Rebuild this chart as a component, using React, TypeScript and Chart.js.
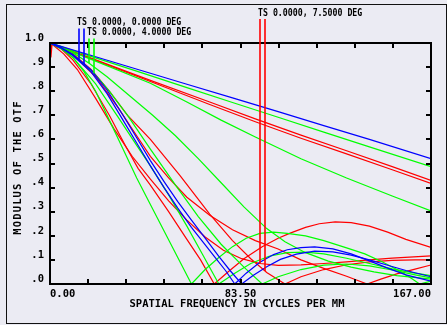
import React, { useEffect, useRef } from 'react';
import { Chart, registerables } from 'chart.js';

Chart.register(...registerables);

type Pt = [number, number];

// Axis ticks
const xTickValues = [0, 16.7, 33.4, 50.1, 66.8, 83.5, 100.2, 116.9, 133.6, 150.3, 167];
const xTickLabels = ['0.00', '', '', '', '', '83.50', '', '', '', '', '167.00'];
const yTickValues = [0, 0.1, 0.2, 0.3, 0.4, 0.5, 0.6, 0.7, 0.8, 0.9, 1.0];
const yTickLabels = ['.0', '.1', '.2', '.3', '.4', '.5', '.6', '.7', '.8', '.9', '1.0'];

const xTitle = 'SPATIAL FREQUENCY IN CYCLES PER MM';
const yTitle = 'MODULUS OF THE OTF';

const fieldLabels = ['TS 0.0000, 0.0000 DEG', 'TS 0.0000, 4.0000 DEG', 'TS 0.0000, 7.5000 DEG'];
const fieldColors = ['#0000ff', '#00ff00', '#ff0000'];

// Field 1 (0.0 deg): [frequency, modulus]
const blueLimit: Pt[] = [[0, 1], [20, 0.943], [40, 0.886], [60, 0.829], [80, 0.772], [100, 0.715], [120, 0.657], [140, 0.6], [167, 0.52]];
const blueT: Pt[] = [[0, 1], [5, 0.978], [10, 0.948], [18, 0.88], [25, 0.79], [32, 0.68], [38, 0.585], [44, 0.49], [50, 0.4], [56, 0.315], [62, 0.235], [67, 0.175], [72, 0.115], [77, 0.055], [81, 0], [86, 0.045], [92, 0.09], [98, 0.122], [104, 0.142], [110, 0.151], [116, 0.154], [124, 0.146], [132, 0.125], [140, 0.096], [148, 0.066], [156, 0.038], [167, 0.012]];
const blueS: Pt[] = [[0, 1], [5, 0.98], [10, 0.952], [18, 0.888], [25, 0.805], [32, 0.7], [38, 0.607], [44, 0.512], [50, 0.425], [56, 0.342], [62, 0.265], [68, 0.19], [74, 0.115], [79, 0.055], [84, 0], [89, 0.035], [95, 0.072], [101, 0.102], [108, 0.124], [116, 0.136], [124, 0.133], [132, 0.12], [140, 0.1], [148, 0.078], [156, 0.056], [167, 0.03]];

// Field 2 (4.0 deg)
const greenLimitA: Pt[] = [[0, 1], [20, 0.938], [40, 0.877], [60, 0.815], [80, 0.753], [100, 0.692], [120, 0.63], [140, 0.569], [167, 0.487]];
const greenLimitB: Pt[] = [[0, 1], [20, 0.925], [44, 0.833], [60, 0.755], [75, 0.68], [90, 0.61], [110, 0.52], [130, 0.44], [150, 0.365], [167, 0.303]];
const greenA: Pt[] = [[0, 1], [5, 0.98], [10, 0.94], [15, 0.88], [20, 0.8], [26, 0.68], [32, 0.56], [38, 0.44], [44, 0.33], [50, 0.22], [56, 0.11], [62, 0], [68, 0.06], [74, 0.11], [80, 0.155], [86, 0.19], [92, 0.21], [98, 0.215], [104, 0.21], [112, 0.2], [120, 0.18], [130, 0.15], [138, 0.125], [146, 0.09], [154, 0.05], [159, 0.02], [162, 0], [167, 0.012]];
const greenT: Pt[] = [[0, 1], [5, 0.985], [10, 0.96], [17, 0.917], [25, 0.86], [35, 0.78], [45, 0.7], [55, 0.615], [65, 0.52], [75, 0.42], [85, 0.32], [95, 0.23], [103, 0.175], [112, 0.13], [122, 0.095], [132, 0.07], [142, 0.05], [152, 0.035], [167, 0.02]];
const greenS: Pt[] = [[0, 1], [5, 0.978], [10, 0.95], [19, 0.878], [26, 0.8], [34, 0.7], [44, 0.56], [55, 0.41], [65, 0.28], [75, 0.165], [85, 0.07], [93, 0], [100, 0.03], [110, 0.06], [120, 0.078], [130, 0.083], [140, 0.075], [150, 0.058], [160, 0.038], [167, 0.025]];
const greenB: Pt[] = [[0, 1], [5, 0.975], [10, 0.94], [20, 0.83], [30, 0.69], [38, 0.575], [44, 0.49], [52, 0.37], [60, 0.24], [67, 0.12], [74, 0], [81, 0.045], [88, 0.085], [96, 0.115], [104, 0.13], [112, 0.132], [120, 0.125], [130, 0.107], [140, 0.085], [150, 0.063], [160, 0.045], [167, 0.035]];

// Field 3 (7.5 deg)
const redLimitA: Pt[] = [[0, 1], [20, 0.93], [44, 0.845], [70, 0.755], [90, 0.685], [110, 0.618], [130, 0.553], [150, 0.487], [167, 0.43]];
const redLimitB: Pt[] = [[0, 1], [20, 0.928], [44, 0.84], [70, 0.745], [90, 0.673], [110, 0.605], [130, 0.54], [150, 0.474], [167, 0.417]];
const redA: Pt[] = [[0, 1], [5, 0.975], [10, 0.93], [18, 0.83], [26, 0.7], [33, 0.575], [38.6, 0.48], [44, 0.41], [52, 0.3], [60, 0.185], [66, 0.1], [72, 0], [78, 0.05], [85, 0.105], [93, 0.155], [100, 0.19], [105, 0.21], [112, 0.235], [118, 0.25], [125, 0.258], [132, 0.255], [140, 0.24], [148, 0.215], [156, 0.185], [167, 0.152]];
const redT: Pt[] = [[0, 1], [0.4, 0.94], [0.9, 0.995], [6, 0.955], [12, 0.89], [20, 0.77], [28, 0.645], [36, 0.53], [44, 0.435], [52, 0.345], [60, 0.265], [68, 0.195], [76, 0.14], [84, 0.105], [92, 0.085], [100, 0.077], [110, 0.079], [120, 0.085], [130, 0.092], [140, 0.1], [150, 0.107], [167, 0.117]];
const redS: Pt[] = [[0, 1], [5, 0.98], [10, 0.955], [18, 0.89], [26, 0.8], [34, 0.7], [44, 0.6], [57, 0.45], [70, 0.29], [80, 0.18], [88, 0.105], [95, 0.048], [103, 0], [110, 0.03], [120, 0.06], [130, 0.08], [140, 0.092], [150, 0.098], [160, 0.1], [167, 0.1]];
const redB: Pt[] = [[0, 1], [5, 0.98], [10, 0.952], [20, 0.86], [30, 0.73], [38, 0.615], [44, 0.53], [52, 0.44], [60, 0.36], [70, 0.285], [80, 0.225], [90, 0.18], [100, 0.145], [110, 0.1], [120, 0.065], [130, 0.032], [139, 0], [145, 0.02], [152, 0.042], [160, 0.062], [167, 0.079]];

const curves: { pts: Pt[]; color: string }[] = [
  { pts: blueLimit, color: fieldColors[0] },
  { pts: blueT, color: fieldColors[0] },
  { pts: blueS, color: fieldColors[0] },
  { pts: greenLimitA, color: fieldColors[1] },
  { pts: greenLimitB, color: fieldColors[1] },
  { pts: greenA, color: fieldColors[1] },
  { pts: greenT, color: fieldColors[1] },
  { pts: greenS, color: fieldColors[1] },
  { pts: greenB, color: fieldColors[1] },
  { pts: redLimitA, color: fieldColors[2] },
  { pts: redLimitB, color: fieldColors[2] },
  { pts: redA, color: fieldColors[2] },
  { pts: redT, color: fieldColors[2] },
  { pts: redS, color: fieldColors[2] },
  { pts: redB, color: fieldColors[2] },
];

// Each field key: label anchor and the T / S curves its marker lines drop to
const fieldKeys = [
  { text: fieldLabels[0], color: fieldColors[0], x: 77, y: 22.5, pair: [blueT, blueS] },
  { text: fieldLabels[1], color: fieldColors[1], x: 87, y: 32.5, pair: [greenT, greenS] },
  { text: fieldLabels[2], color: fieldColors[2], x: 258, y: 13, pair: [redT, redS] },
];

const MONO = '"DejaVu Sans Mono", monospace';

function valueAt(pts: Pt[], f: number): number {
  for (let i = 1; i < pts.length; i++) {
    const [x0, y0] = pts[i - 1];
    const [x1, y1] = pts[i];
    if (f <= x1) return y0 + ((y1 - y0) * (f - x0)) / (x1 - x0);
  }
  return pts[pts.length - 1][1];
}

const otfDecor = {
  id: 'otfDecor',
  beforeDraw(chart: any) {
    const { ctx, width, height } = chart;
    ctx.save();
    ctx.fillStyle = '#ebebf3';
    ctx.fillRect(0, 0, width, height);
    ctx.restore();
  },
  afterDraw(chart: any) {
    const { ctx, chartArea } = chart;
    const { left, right, top, bottom } = chartArea;
    const xs = chart.scales.x;
    const ys = chart.scales.y;
    ctx.save();

    // plot box
    ctx.strokeStyle = '#000';
    ctx.lineWidth = 2;
    ctx.strokeRect(left, top, right - left, bottom - top);

    // inward tick marks
    ctx.beginPath();
    xs.ticks.forEach((t: any, i: number) => {
      if (i === 0 || i === xs.ticks.length - 1) return;
      const px = Math.round(xs.getPixelForValue(t.value));
      ctx.moveTo(px, top);
      ctx.lineTo(px, top + 5);
      ctx.moveTo(px, bottom);
      ctx.lineTo(px, bottom - 5);
    });
    ys.ticks.forEach((t: any, i: number) => {
      if (i === 0 || i === ys.ticks.length - 1) return;
      const py = Math.round(ys.getPixelForValue(t.value));
      ctx.moveTo(left, py);
      ctx.lineTo(left + 5, py);
      ctx.moveTo(right, py);
      ctx.lineTo(right - 5, py);
    });
    ctx.stroke();

    // field key: labels and marker lines down to the T and S curves
    fieldKeys.forEach((k) => {
      ctx.strokeStyle = k.color;
      ctx.lineWidth = 1.6;
      [2, 7].forEach((dx, j) => {
        const px = k.x + dx;
        const f = xs.getValueForPixel(px);
        const py = ys.getPixelForValue(valueAt(k.pair[j], f));
        ctx.beginPath();
        ctx.moveTo(px, k.y + 6);
        ctx.lineTo(px, py);
        ctx.stroke();
      });
      ctx.save();
      ctx.fillStyle = '#000';
      ctx.font = `bold 10px ${MONO}`;
      ctx.textBaseline = 'middle';
      ctx.textAlign = 'left';
      ctx.translate(k.x, k.y);
      ctx.scale(0.825, 1);
      ctx.fillText(k.text, 0, 0);
      ctx.restore();
    });

    // axis titles
    ctx.fillStyle = '#000';
    ctx.font = `bold 10.5px ${MONO}`;
    ctx.textAlign = 'center';
    ctx.textBaseline = 'middle';
    ctx.fillText(xTitle, 237, 304);
    ctx.save();
    ctx.translate(18.5, 167.5);
    ctx.rotate(-Math.PI / 2);
    (ctx as any).letterSpacing = '1.15px';
    ctx.fillText(yTitle, 0, 0);
    ctx.restore();

    // outer frame
    ctx.strokeStyle = '#111';
    ctx.lineWidth = 1;
    ctx.strokeRect(6.5, 4.5, 440, 319);
    ctx.restore();
  },
};

export default function App() {
  const canvasRef = useRef<HTMLCanvasElement | null>(null);

  useEffect(() => {
    const canvas = canvasRef.current;
    if (!canvas) return;
    const tickFont = { family: MONO, size: 10.5, weight: 'bold' as const };
    const chart = new Chart(canvas, {
      type: 'line',
      data: {
        datasets: curves.map((c, i) => ({
          label: `curve ${i + 1}`,
          data: c.pts.map(([x, y]) => ({ x, y })),
          borderColor: c.color,
          backgroundColor: c.color,
          borderWidth: 1.2,
          pointRadius: 0,
          tension: 0,
          fill: false,
        })),
      },
      options: {
        animation: false,
        responsive: false,
        devicePixelRatio: 1,
        events: [],
        layout: { padding: { left: 0, top: 43, right: 16, bottom: 0 } },
        plugins: { legend: { display: false }, tooltip: { enabled: false }, title: { display: false } },
        scales: {
          x: {
            type: 'linear',
            min: 0,
            max: 167,
            grid: { display: false, drawTicks: false },
            border: { display: false },
            afterBuildTicks: (s: any) => {
              s.ticks = xTickValues.map((value) => ({ value }));
            },
            afterFit: (s: any) => {
              s.height = 41;
            },
            ticks: {
              autoSkip: false,
              maxRotation: 0,
              align: 'inner',
              padding: 4,
              color: '#000',
              font: tickFont,
              callback: (_v: any, i: number) => xTickLabels[i],
            },
          },
          y: {
            type: 'linear',
            min: 0,
            max: 1,
            grid: { display: false, drawTicks: false },
            border: { display: false },
            afterBuildTicks: (s: any) => {
              s.ticks = yTickValues.map((value) => ({ value }));
            },
            afterFit: (s: any) => {
              s.width = 50;
            },
            ticks: {
              autoSkip: false,
              padding: 6,
              labelOffset: -5,
              color: '#000',
              font: tickFont,
              callback: (_v: any, i: number) => yTickLabels[i],
            },
          },
        },
      },
      plugins: [otfDecor],
    } as any);
    return () => chart.destroy();
  }, []);

  return (
    <div style={{ position: 'fixed', left: 0, top: 0, width: 447, height: 325, background: '#ebebf3' }}>
      <canvas ref={canvasRef} width={447} height={325} style={{ width: 447, height: 325, display: 'block' }} />
    </div>
  );
}
